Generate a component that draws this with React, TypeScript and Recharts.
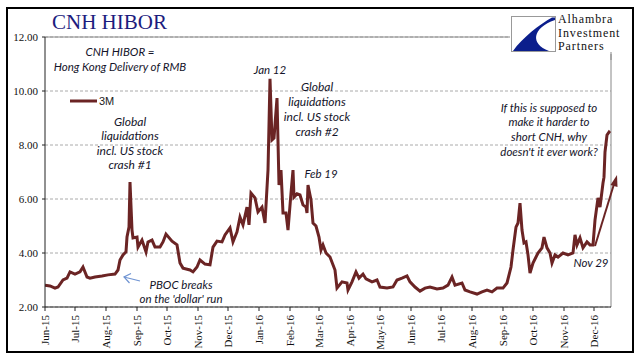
import { LineChart, Line, XAxis, YAxis, CartesianGrid, ReferenceLine } from 'recharts';

// CNH HIBOR 3M (approx. every few days)
const dates = [
  '2015-06-01', '2015-06-06', '2015-06-11', '2015-06-14', '2015-06-19', '2015-06-23', '2015-06-26',
  '2015-07-01', '2015-07-06', '2015-07-09', '2015-07-13', '2015-07-16', '2015-07-21', '2015-07-28',
  '2015-08-03', '2015-08-10', '2015-08-13', '2015-08-15', '2015-08-18', '2015-08-21', '2015-08-22',
  '2015-08-24', '2015-08-25', '2015-08-27', '2015-08-28', '2015-09-01', '2015-09-02', '2015-09-06',
  '2015-09-10', '2015-09-12', '2015-09-16', '2015-09-19', '2015-09-24', '2015-09-27', '2015-09-30',
  '2015-10-06', '2015-10-11', '2015-10-14', '2015-10-17', '2015-10-24', '2015-10-27', '2015-10-31',
  '2015-11-03', '2015-11-08', '2015-11-13', '2015-11-16', '2015-11-20', '2015-11-25', '2015-11-28',
  '2015-12-03', '2015-12-06', '2015-12-10', '2015-12-13', '2015-12-16', '2015-12-20', '2015-12-22',
  '2015-12-24', '2015-12-28', '2015-12-31', '2016-01-04', '2016-01-07', '2016-01-10', '2016-01-12',
  '2016-01-14', '2016-01-16', '2016-01-19', '2016-01-21', '2016-01-23', '2016-01-25', '2016-01-28',
  '2016-01-30', '2016-02-02', '2016-02-04', '2016-02-05', '2016-02-08', '2016-02-11', '2016-02-14',
  '2016-02-17', '2016-02-18', '2016-02-19', '2016-02-22', '2016-02-24', '2016-02-27', '2016-03-01',
  '2016-03-03', '2016-03-05', '2016-03-08', '2016-03-12', '2016-03-17', '2016-03-19', '2016-03-24',
  '2016-03-29', '2016-03-30', '2016-04-03', '2016-04-07', '2016-04-10', '2016-04-14', '2016-04-17',
  '2016-04-23', '2016-04-28', '2016-05-01', '2016-05-08', '2016-05-14', '2016-05-18', '2016-05-23',
  '2016-05-28', '2016-05-31', '2016-06-05', '2016-06-10', '2016-06-15', '2016-06-20', '2016-06-27',
  '2016-07-03', '2016-07-08', '2016-07-12', '2016-07-15', '2016-07-22', '2016-07-25', '2016-07-30',
  '2016-08-06', '2016-08-11', '2016-08-16', '2016-08-21', '2016-08-26', '2016-09-01', '2016-09-05',
  '2016-09-09', '2016-09-11', '2016-09-14', '2016-09-16', '2016-09-18', '2016-09-20', '2016-09-22',
  '2016-09-24', '2016-09-26', '2016-09-28', '2016-10-01', '2016-10-06', '2016-10-10', '2016-10-12',
  '2016-10-15', '2016-10-18', '2016-10-20', '2016-10-23', '2016-10-26', '2016-10-31', '2016-11-05',
  '2016-11-10', '2016-11-12', '2016-11-14', '2016-11-17', '2016-11-20', '2016-11-24', '2016-11-27',
  '2016-11-30', '2016-12-02', '2016-12-05', '2016-12-07', '2016-12-10', '2016-12-11', '2016-12-12',
  '2016-12-14', '2016-12-16', '2016-12-17',
];

const hibor3m = [
  2.81, 2.78, 2.70, 2.74, 3.00, 3.07, 3.30,
  3.22, 3.30, 3.48, 3.11, 3.07, 3.11, 3.15,
  3.19, 3.22, 3.37, 3.74, 3.93, 4.04, 4.59,
  4.96, 6.63, 4.85, 4.56, 4.59, 4.22, 4.48,
  4.04, 4.41, 4.48, 4.22, 4.22, 4.41, 4.70,
  4.44, 4.30, 3.63, 3.44, 3.37, 3.30, 3.48,
  3.74, 3.59, 3.56, 4.22, 4.44, 4.41, 4.67,
  4.93, 4.41, 4.78, 5.33, 5.04, 5.70, 5.04,
  6.22, 6.04, 5.52, 5.70, 5.11, 7.07, 10.45,
  8.19, 8.26, 9.74, 6.52, 7.07, 5.48, 5.48,
  4.85, 6.22, 7.07, 6.07, 6.19, 6.15, 5.78,
  5.70, 5.48, 6.52, 5.96, 5.11, 5.00, 4.59,
  4.11, 4.30, 4.00, 3.85, 3.37, 2.70, 2.93,
  2.89, 2.63, 2.93, 3.30, 3.07, 3.22, 3.04,
  2.93, 3.00, 2.74, 2.70, 2.74, 3.00, 3.07,
  3.15, 2.93, 2.74, 2.59, 2.70, 2.74, 2.67,
  2.70, 2.81, 3.11, 2.81, 2.89, 2.63, 2.56,
  2.48, 2.56, 2.63, 2.56, 2.70, 2.70, 2.89,
  3.48, 4.11, 4.96, 5.11, 5.85, 4.85, 4.37,
  4.41, 3.93, 3.26, 3.63, 4.00, 4.19, 4.59,
  4.19, 4.00, 3.63, 3.93, 3.85, 4.00, 3.93,
  4.00, 4.67, 4.30, 4.56, 4.19, 4.41, 4.30,
  4.30, 5.22, 6.04, 5.70, 6.59, 6.81, 7.74,
  8.37, 8.48, 8.44,
];

const tickMonths = [
  '2015-06-01', '2015-07-01', '2015-08-01', '2015-09-01', '2015-10-01', '2015-11-01', '2015-12-01',
  '2016-01-01', '2016-02-01', '2016-03-01', '2016-04-01', '2016-05-01', '2016-06-01', '2016-07-01',
  '2016-08-01', '2016-09-01', '2016-10-01', '2016-11-01', '2016-12-01',
];
const monthNames = ['Jan', 'Feb', 'Mar', 'Apr', 'May', 'Jun', 'Jul', 'Aug', 'Sep', 'Oct', 'Nov', 'Dec'];
const yTicks = [2, 4, 6, 8, 10, 12];

const toTime = (d: string) => Date.parse(d + 'T00:00:00Z');
const data = dates.map((d, i) => ({ t: toTime(d), v: hibor3m[i] }));
const xStart = toTime('2015-06-01');
const xEnd = toTime('2016-12-18');

const LINE = '#6B2424';
const NOTE = '#14142a';
const serif = '"Liberation Serif", "Times New Roman", serif';
const noteFont = 'Lato, "Open Sans", sans-serif';

function MonthTick(props: any) {
  const { x, y, payload } = props;
  const d = new Date(payload.value);
  const label = `${monthNames[d.getUTCMonth()]}-${String(d.getUTCFullYear()).slice(2)}`;
  return (
    <text
      transform={`translate(${x},${y + 2}) rotate(-90)`}
      textAnchor="end"
      dy="0.33em"
      fontFamily={serif}
      fontSize={11}
      fill="#111"
    >
      {label}
    </text>
  );
}

function Note({ lines, cx, top, size = 12, lh = 15, w = 160 }: any) {
  return (
    <div
      style={{
        position: 'absolute', left: cx - w / 2, top, width: w, textAlign: 'center',
        fontFamily: noteFont, fontStyle: 'italic', fontSize: size, lineHeight: `${lh}px`,
        color: NOTE, whiteSpace: 'nowrap',
      }}
    >
      {lines.map((l: string) => <div key={l}>{l}</div>)}
    </div>
  );
}

export default function App() {
  return (
    <div style={{ position: 'absolute', left: 0, top: 0, width: 641, height: 361, background: '#fff', overflow: 'hidden' }}>
      <LineChart width={641} height={361} data={data} margin={{ top: 37, right: 30, bottom: 10, left: 5 }}>
        <CartesianGrid vertical={false} stroke="#aaa" strokeDasharray="3 2" />
        <XAxis
          dataKey="t"
          type="number"
          domain={[xStart, xEnd]}
          ticks={tickMonths.map(toTime)}
          tick={<MonthTick />}
          height={44}
          tickSize={4}
          stroke="#222"
          interval={0}
          allowDataOverflow
        />
        <YAxis
          domain={[2, 12]}
          ticks={yTicks}
          tickFormatter={(v: number) => v.toFixed(2)}
          width={40}
          tickSize={3}
          tickMargin={4}
          stroke="#222"
          tick={{ fontFamily: serif, fontSize: 11, fill: '#111' }}
          interval={0}
        />
        <ReferenceLine y={12} stroke="#888" strokeWidth={1} />
        <ReferenceLine x={xEnd} stroke="#888" strokeWidth={1} />
        <Line type="linear" dataKey="v" stroke={LINE} strokeWidth={3} dot={false} isAnimationActive={false} />
      </LineChart>

      {/* outer frame */}
      <div style={{ position: 'absolute', left: 6, top: 7, width: 624, height: 342, border: '2px solid #000' }} />

      {/* title */}
      <div style={{ position: 'absolute', left: 52, top: 10, fontFamily: serif, fontSize: 21, color: '#1C1C7E' }}>CNH HIBOR</div>

      {/* logo */}
      <div style={{ position: 'absolute', left: 510, top: 15, width: 120, height: 39, background: '#fff' }} />
      <svg style={{ position: 'absolute', left: 0, top: 0 }} width={641} height={361}>
        <rect x={511.5} y={16.5} width={44} height={35} fill="#fff" stroke="#999" strokeWidth={1} />
        <path d="M 552 17.5 C 540 24 522 38 513 51 L 549 51 C 530 44 532 28 555 20 L 555 17.5 Z" fill="#0B1E8C" />
        <line x1={611} y1={52} x2={611} y2={60} stroke="#888" />
        {/* legend */}
        <line x1={70} y1={101} x2={97} y2={101} stroke={LINE} strokeWidth={3} />
        <text x={99} y={105} fontFamily='"Liberation Sans", Arial, sans-serif' fontSize={11} fill="#222">3M</text>
        {/* PBOC arrow */}
        <g stroke="#6E93D2" strokeWidth={1.2} fill="none">
          <line x1={140} y1={281} x2={124} y2={277} />
          <polyline points="131,273.5 124,277 129.5,283" />
        </g>
        {/* Nov 29 arrow */}
        <line x1={595} y1={246} x2={614} y2={184} stroke={LINE} strokeWidth={2} />
        <polygon points="617,175 610.5,185 617.5,187" fill={LINE} />
      </svg>
      <div style={{ position: 'absolute', left: 558, top: 13, fontFamily: serif, fontSize: 12, lineHeight: '13.5px', letterSpacing: 0.9, color: '#111' }}>
        <div>Alhambra</div>
        <div>Investment</div>
        <div>Partners</div>
      </div>

      <Note lines={['CNH HIBOR =', 'Hong Kong Delivery of RMB']} cx={120} top={44} size={11.5} lh={15} />
      <Note lines={['Global', 'liquidations', 'incl. US stock', 'crash #1']} cx={130} top={114.5} size={12} lh={14.5} />
      <Note lines={['Jan 12']} cx={270} top={62} size={11.5} lh={15} w={60} />
      <Note lines={['Global', 'liquidations', 'incl. US stock', 'crash #2']} cx={317} top={78.5} size={12} lh={15} />
      <Note lines={['Feb 19']} cx={321} top={165.5} size={11.5} lh={15} w={60} />
      <Note lines={['PBOC breaks', "on the 'dollar' run"]} cx={181} top={278} size={11.5} lh={14} />
      <Note lines={['If this is supposed to', 'make it harder to', 'short CNH, why', "doesn't it ever work?"]} cx={549} top={100.5} size={11.5} lh={14.7} />
      <Note lines={['Nov 29']} cx={591} top={254.5} size={11.5} lh={15} w={60} />
    </div>
  );
}
